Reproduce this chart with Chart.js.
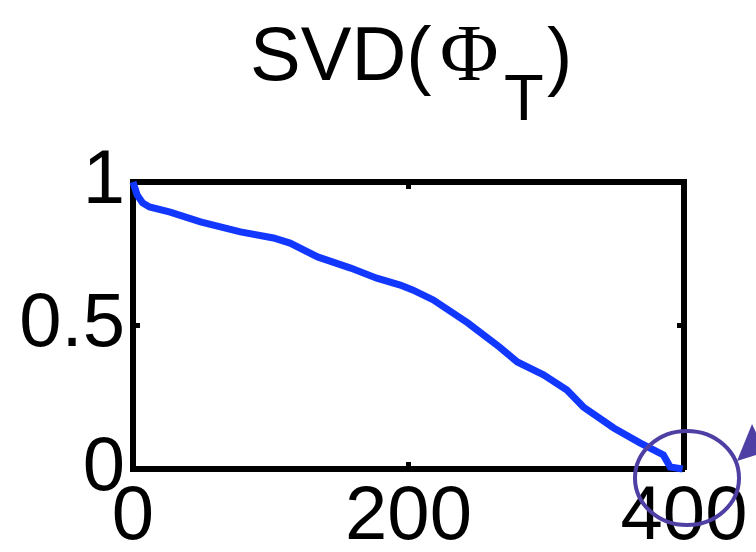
<!DOCTYPE html>
<html>
<head>
<meta charset="utf-8">
<script src="https://cdn.jsdelivr.net/npm/chart.js@4.4.1/dist/chart.umd.min.js"></script>
<style>
  body { margin: 0; background: #fff; }
  #svdChart { display: block; }
</style>
</head>
<body>
<canvas id="svdChart" width="756" height="552"></canvas>
<script>
// singular values (normalised)
const svdIndex = [0, 3, 7, 12, 27, 49, 78, 102, 114, 134, 158, 177, 194, 203, 218, 243, 266, 279, 298, 315, 327, 349, 368, 385, 390, 399];
const svdValue = [1.0, 0.955, 0.927, 0.913, 0.895, 0.861, 0.826, 0.805, 0.787, 0.739, 0.700, 0.665, 0.641, 0.624, 0.589, 0.509, 0.425, 0.373, 0.328, 0.275, 0.216, 0.143, 0.091, 0.049, 0.007, 0.0];
const xTicks = [0, 200, 400];
const yTicks = [0, 0.5, 1];

const FONT = 'Liberation Sans, Arial, Helvetica, sans-serif';

// title with subscript, small inward ticks and the circled annotation
const extras = {
    id: 'extras',
    afterDraw(chart) {
        const ctx = chart.ctx;
        const x = chart.scales.x;
        const y = chart.scales.y;
        const area = chart.chartArea;

        ctx.save();
        // title SVD(Φ_T)
        ctx.fillStyle = '#000';
        ctx.textBaseline = 'alphabetic';
        ctx.textAlign = 'left';
        ctx.font = '76px ' + FONT;
        ctx.fillText('SVD(', 250, 80);
        ctx.font = '80px Liberation Serif, Times New Roman, serif';
        ctx.fillText('Φ', 440, 80);
        ctx.font = '65px ' + FONT;
        ctx.fillText('T', 504, 120);
        ctx.font = '76px ' + FONT;
        ctx.fillText(')', 547, 81);

        // inward tick marks
        ctx.strokeStyle = '#000';
        ctx.lineWidth = 5;
        ctx.beginPath();
        yTicks.slice(1, -1).forEach(v => {
            const py = y.getPixelForValue(v);
            ctx.moveTo(area.left, py); ctx.lineTo(area.left + 7, py);
            ctx.moveTo(area.right, py); ctx.lineTo(area.right - 7, py);
        });
        xTicks.slice(1, -1).forEach(v => {
            const px = x.getPixelForValue(v);
            ctx.moveTo(px, area.top); ctx.lineTo(px, area.top + 7);
            ctx.moveTo(px, area.bottom); ctx.lineTo(px, area.bottom - 7);
        });
        ctx.stroke();

        // circle round the tail and the arrow head
        const cx = x.getPixelForValue(400) + 3;
        const cy = y.getPixelForValue(0) + 9;
        ctx.strokeStyle = '#4d3fa3';
        ctx.fillStyle = '#4d3fa3';
        ctx.lineWidth = 4;
        ctx.beginPath();
        ctx.ellipse(cx, cy, 52, 47, 0, 0, Math.PI * 2);
        ctx.stroke();
        ctx.beginPath();
        ctx.moveTo(cx + 50, cy - 17);
        ctx.lineTo(cx + 65, cy - 54);
        ctx.lineTo(cx + 78, cy - 26);
        ctx.closePath();
        ctx.fill();
        ctx.restore();
    }
};

const ctx = document.getElementById('svdChart').getContext('2d');
const svdChart = new Chart(ctx, {
    type: 'line',
    data: {
        datasets: [{
            data: svdIndex.map((v, i) => ({ x: v, y: svdValue[i] })),
            borderColor: '#1238ff',
            borderWidth: 7,
            pointRadius: 0,
            tension: 0,
            fill: false,
            clip: false
        }]
    },
    options: {
        responsive: false,
        animation: false,
        devicePixelRatio: 1,
        layout: { padding: 0 },
        plugins: {
            legend: { display: false },
            tooltip: { enabled: false },
            title: { display: false }
        },
        scales: {
            x: {
                type: 'linear',
                position: 'bottom',
                min: 0,
                max: 400,
                afterBuildTicks: s => { s.ticks = xTicks.map(v => ({ value: v })); },
                afterFit: s => { s.height = 83; },
                grid: { drawOnChartArea: false, drawTicks: false },
                border: { color: '#000', width: 6 },
                ticks: { autoSkip: false, maxRotation: 0, padding: 3, color: '#000', font: { family: FONT, size: 76 },
                         callback: v => String(v) }
            },
            x2: {
                type: 'linear',
                position: 'top',
                min: 0,
                max: 400,
                afterFit: s => { s.height = 182; },
                grid: { drawOnChartArea: false, drawTicks: false },
                border: { color: '#000', width: 6 },
                ticks: { display: false }
            },
            y: {
                type: 'linear',
                position: 'left',
                min: 0,
                max: 1,
                afterBuildTicks: s => { s.ticks = yTicks.map(v => ({ value: v })); },
                afterFit: s => { s.width = 133; },
                grid: { drawOnChartArea: false, drawTicks: false },
                border: { color: '#000', width: 6 },
                ticks: { autoSkip: false, padding: 8, color: '#000', font: { family: FONT, size: 76 },
                         callback: v => String(v) }
            },
            y2: {
                type: 'linear',
                position: 'right',
                min: 0,
                max: 1,
                afterFit: s => { s.width = 72; },
                grid: { drawOnChartArea: false, drawTicks: false },
                border: { color: '#000', width: 6 },
                ticks: { display: false }
            }
        }
    },
    plugins: [extras]
});
</script>
</body>
</html>
